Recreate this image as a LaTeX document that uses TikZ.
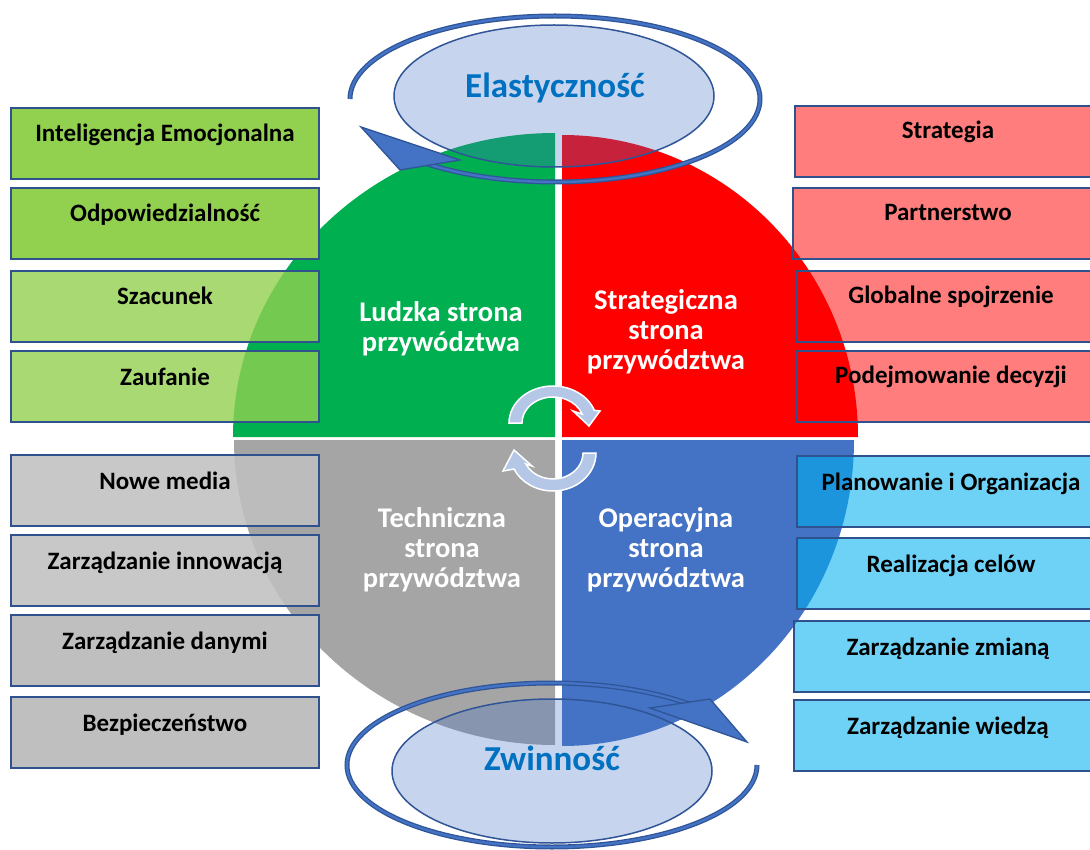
\documentclass[tikz,border=0pt]{standalone}
\usepackage{fontspec}
\setmainfont{Carlito}
\usetikzlibrary{calc}

\definecolor{qgreen}{HTML}{00B050}
\definecolor{qred}{HTML}{FF0000}
\definecolor{qgray}{HTML}{A5A5A5}
\definecolor{qblue}{HTML}{4472C4}
\definecolor{edgeblue}{HTML}{2F5597}
\definecolor{boxedge}{HTML}{2F528F}
\definecolor{lgreen}{HTML}{92D050}
\definecolor{lgray}{HTML}{BFBFBF}
\definecolor{lgraytop}{HTML}{C0C0C0}
\definecolor{lcyan}{HTML}{00B0F0}
\definecolor{titleblue}{HTML}{0070C0}
\definecolor{arrowfill}{HTML}{B4C7E7}

\begin{document}
\begin{tikzpicture}[x=1pt,y=-1pt,
  itembox/.style={draw=boxedge, line width=2pt, rectangle, inner sep=0pt,
    minimum width=308pt, minimum height=71pt, anchor=north west},
  greensolid/.style={itembox, fill=lgreen},
  greenclear/.style={itembox, fill=lgreen, fill opacity=0.8},
  redclear/.style={itembox, fill=qred, fill opacity=0.51},
  cyanclear/.style={itembox, fill=lcyan, fill opacity=0.57},
  grayclear/.style={itembox, fill=lgraytop, fill opacity=0.88},
  graysolid/.style={itembox, fill=lgray},
  itemtext/.style={font=\fontsize{25}{30}\selectfont\bfseries, text=black,
    anchor=base, inner sep=0pt},
  quadtext/.style={font=\fontsize{28.5}{30}\selectfont\bfseries, text=white,
    anchor=base, inner sep=0pt},
  titletext/.style={font=\fontsize{35}{40}\selectfont\bfseries, text=titleblue,
    anchor=base, inner sep=0pt},
  titleoval/.style={draw=edgeblue, line width=1.5pt, fill=qblue, fill opacity=0.3},
  ringband/.style={draw=edgeblue, line width=1.3pt, double=qblue, double distance=2.4pt},
  ringhead/.style={fill=qblue, draw=edgeblue, line width=1.3pt, line join=miter},
  cyclearrow/.style={fill=arrowfill, draw=white, line width=1.5pt, line join=miter}
]
\useasboundingbox (0,0) rectangle (1090,850);
\clip (0,0) rectangle (1090,850);

% four quadrants of the leadership circle
\fill[qgreen] (555,437) -- (233,437)
  arc[start angle=180, end angle=270, x radius=322, y radius=304] -- cycle;
\fill[qred] (562,437) -- (562,135)
  arc[start angle=270, end angle=360, x radius=296, y radius=302] -- cycle;
\fill[qgray] (555,440) -- (234,440)
  arc[start angle=180, end angle=90, x radius=321, y radius=305] -- cycle;
\fill[qblue] (562,440) -- (854,440)
  arc[start angle=0, end angle=90, x radius=292, y radius=306] -- cycle;

% left column: human side
\node[greensolid] (l1) at (10,107) {};
\node[greensolid] (l2) at (10,187) {};
\node[greenclear] (l3) at (10,270) {};
\node[greenclear] (l4) at (10,350) {};
\node[itemtext] (l1t) at ($(l1.north)+(0,35)$) {Inteligencja Emocjonalna};
\node[itemtext] (l2t) at ($(l2.north)+(0,35)$) {Odpowiedzialność};
\node[itemtext] (l3t) at ($(l3.north)+(0,35)$) {Szacunek};
\node[itemtext] (l4t) at ($(l4.north)+(0,35)$) {Zaufanie};

% left column: technical side
\node[grayclear] (l5) at (10,454) {};
\node[grayclear] (l6) at (10,534) {};
\node[graysolid] (l7) at (10,614) {};
\node[graysolid] (l8) at (10,696) {};
\node[itemtext] (l5t) at ($(l5.north)+(0,35)$) {Nowe media};
\node[itemtext] (l6t) at ($(l6.north)+(0,35)$) {Zarządzanie innowacją};
\node[itemtext] (l7t) at ($(l7.north)+(0,35)$) {Zarządzanie danymi};
\node[itemtext] (l8t) at ($(l8.north)+(0,35)$) {Bezpieczeństwo};

% right column: strategic side
\node[redclear] (r1) at (794,105) {};
\node[redclear] (r2) at (792,187) {};
\node[redclear] (r3) at (796,270) {};
\node[redclear] (r4) at (796,350) {};
\node[itemtext] (r1t) at (948,139) {Strategia};
\node[itemtext] (r2t) at (948,221) {Partnerstwo};
\node[itemtext] (r3t) at (951,304) {Globalne spojrzenie};
\node[itemtext] (r4t) at (951,384) {Podejmowanie decyzji};

% right column: operational side
\node[cyanclear] (r5) at (796,455) {};
\node[cyanclear] (r6) at (796,537) {};
\node[cyanclear] (r7) at (793,620) {};
\node[cyanclear] (r8) at (793,699) {};
\node[itemtext] (r5t) at (951,490) {Planowanie i Organizacja};
\node[itemtext] (r6t) at (951,572) {Realizacja celów};
\node[itemtext] (r7t) at (948,655) {Zarządzanie zmianą};
\node[itemtext] (r8t) at (948,734) {Zarządzanie wiedzą};

% quadrant captions
\node[quadtext] (q1a) at (441,322) {Ludzka strona};
\node[quadtext] (q1b) at (441,352) {przywództwa};
\node[quadtext] (q2a) at (666,310) {Strategiczna};
\node[quadtext] (q2b) at (666,340) {strona};
\node[quadtext] (q2c) at (666,370) {przywództwa};
\node[quadtext] (q3a) at (442,527) {Techniczna};
\node[quadtext] (q3b) at (442,557) {strona};
\node[quadtext] (q3c) at (442,587) {przywództwa};
\node[quadtext] (q4a) at (666,527) {Operacyjna};
\node[quadtext] (q4b) at (666,557) {strona};
\node[quadtext] (q4c) at (666,587) {przywództwa};

% circular arrows in the middle
\coordinate (ca) at (553,423);
\filldraw[cyclearrow] ($(ca)+(180:44 and 37)$)
  arc[start angle=180, end angle=340, x radius=44, y radius=37]
  -- (600,411) -- (589,426) -- (573,411)
  -- ($(ca)+(340:31 and 26)$)
  arc[start angle=340, end angle=180, x radius=31, y radius=26] -- cycle;
\coordinate (cb) at (553,453);
\filldraw[cyclearrow] ($(cb)+(0:43 and 38)$)
  arc[start angle=0, end angle=155, x radius=43, y radius=38]
  -- (503,471) -- (514,450) -- (532,466)
  -- ($(cb)+(155:30 and 26)$)
  arc[start angle=155, end angle=0, x radius=30, y radius=26] -- cycle;

% upper oval with its ring
\path[titleoval] (554,96) ellipse[x radius=160, y radius=71];
\coordinate (ringa) at (555,99);
\draw[ringband] ($(ringa)+(180:205 and 83)$)
  arc[start angle=180, end angle=490, x radius=205, y radius=83];
\filldraw[ringhead] (361,127) -- (400,170) -- (460,160) -- cycle;
\node[titletext] (elast) at (555,98) {Elastyczność};

% lower oval with its ring
\path[titleoval] (552,771) ellipse[x radius=160, y radius=72];
\coordinate (ringb) at (552,765);
\draw[ringband] ($(ringb)+(0:205 and 82)$)
  arc[start angle=0, end angle=312, x radius=205, y radius=82];
\filldraw[ringhead] (747,742) -- (710,699) -- (650,708) -- cycle;
\node[titletext] (zwin) at (552,770) {Zwinność};
\end{tikzpicture}
\end{document}
